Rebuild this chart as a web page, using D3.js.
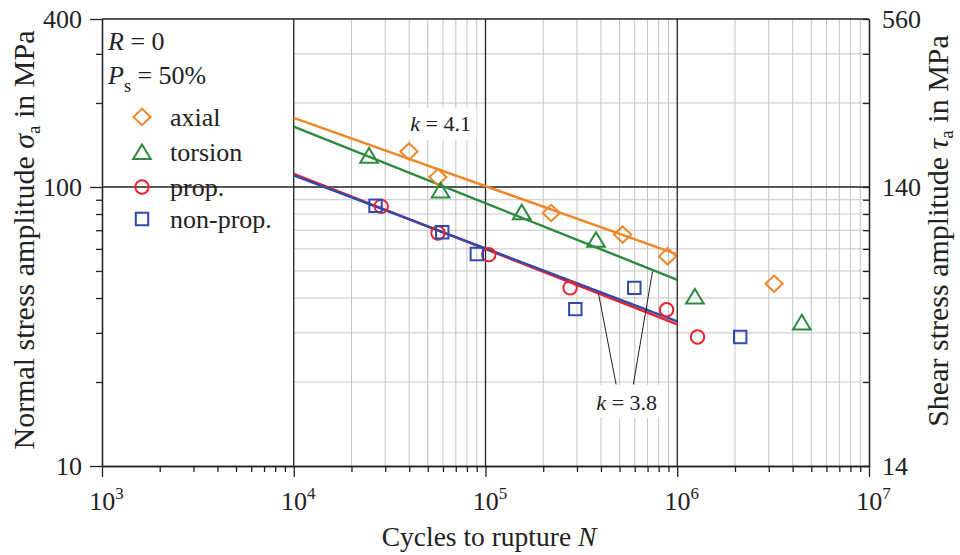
<!DOCTYPE html>
<html>
<head>
<meta charset="utf-8">
<script src="https://cdn.jsdelivr.net/npm/d3@7"></script>
<style>
  html, body { margin: 0; padding: 0; background: #fff; }
  svg { display: block; font-family: "Liberation Serif", "Times New Roman", serif; }
  .grid-minor { stroke: #c4c4c4; stroke-width: 1; }
  .grid-major { stroke: #222; stroke-width: 1.3; }
  .axis path, .axis line { stroke: #222; stroke-width: 1.3; }
  .axis text { font-size: 26px; fill: #222; font-family: "Liberation Serif", serif; }
</style>
</head>
<body>
<svg id="chart" width="960" height="555"></svg>
<script>
// cycles to rupture N and normal stress amplitude (MPa)
const axialN = [39900, 56500, 220000, 519000, 890000, 3200000];
const axialS = [134, 108.6, 80.7, 67.5, 56.4, 45.0];
const torsionN = [24700, 58300, 154500, 377000, 1236000, 4460000];
const torsionS = [129.5, 97.2, 81.1, 64.7, 40.5, 32.7];
const propN = [28600, 56500, 104000, 276000, 880000, 1276000];
const propS = [85.2, 68.4, 57.2, 43.5, 36.3, 29.0];
const nonPropN = [26700, 59500, 90100, 294000, 597000, 2130000];
const nonPropS = [85.7, 68.8, 57.5, 36.5, 43.5, 29.0];

// fitted S-N lines, from 1e4 to 1e6 cycles
const fitN = [1e4, 1e6];
const axialFit = [177, 57.3];
const torsionFit = [164.5, 46.5];
const propFit = [111.5, 32.2];
const nonPropFit = [110, 33];

const xMajor = [1e3, 1e4, 1e5, 1e6, 1e7];
const yMajor = [10, 100, 400];
const yMinor = [20, 30, 40, 50, 60, 70, 80, 90, 200, 300];
const tauMajor = [14, 140, 560];

const COLORS = { axial: '#f0862a', torsion: '#2b8a3e', prop: '#e8232b', nonProp: '#3149ad' };

const svg = d3.select('#chart');
const L = 102, R = 869, T = 19, B = 466;

const x = d3.scaleLog().domain([1e3, 1e7]).range([L, R]);
const y = d3.scaleLog().domain([10, 400]).range([B, T]);
const yTau = d3.scaleLog().domain([14, 560]).range([B, T]);

const xMinor = [];
[1e3, 1e4, 1e5, 1e6].forEach((d) => {
  for (let n = 2; n <= 9; n += 1) xMinor.push(n * d);
});

// grid: minor lines only over 1e4..1e7
const grid = svg.append('g');
grid.selectAll('.vmin').data(xMinor.filter((v) => v > 1e4))
  .join('line').attr('class', 'grid-minor')
  .attr('x1', (d) => x(d)).attr('x2', (d) => x(d)).attr('y1', T).attr('y2', B);
grid.selectAll('.hmin').data(yMinor)
  .join('line').attr('class', 'grid-minor')
  .attr('x1', x(1e4)).attr('x2', R).attr('y1', (d) => y(d)).attr('y2', (d) => y(d));

// annotation anchors (text baseline centre) - white boxes hide the grid
const k41 = { n: 58300, s: 159 };
const k38 = { n: 545000, s: 15.9 };
svg.append('rect').attr('x', x(k41.n) - 36).attr('y', y(k41.s) - 23).attr('width', 72).attr('height', 32).attr('fill', '#fff');
svg.append('rect').attr('x', x(k38.n) - 37).attr('y', y(k38.s) - 25).attr('width', 74).attr('height', 33).attr('fill', '#fff');

grid.selectAll('.vmaj').data([1e4, 1e5, 1e6])
  .join('line').attr('class', 'grid-major')
  .attr('x1', (d) => x(d)).attr('x2', (d) => x(d)).attr('y1', T).attr('y2', B);
grid.append('line').attr('class', 'grid-major')
  .attr('x1', L).attr('x2', R).attr('y1', y(100)).attr('y2', y(100));
grid.append('line').attr('class', 'grid-major')
  .attr('x1', L).attr('x2', R).attr('y1', T).attr('y2', T);

// axes
svg.append('g').attr('class', 'axis').attr('transform', `translate(0,${B})`)
  .call(d3.axisBottom(x).tickValues(xMinor).tickSize(6).tickSizeOuter(0).tickFormat(''));
const xAx = svg.append('g').attr('class', 'axis').attr('transform', `translate(0,${B})`)
  .call(d3.axisBottom(x).tickValues(xMajor).tickSize(11).tickSizeOuter(0).tickFormat(''));
xAx.selectAll('.tick').append('text')
  .attr('y', 44).attr('x', 4).attr('text-anchor', 'middle')
  .each(function (d) {
    const t = d3.select(this);
    t.append('tspan').text('10');
    t.append('tspan').attr('dy', -11).style('font-size', '17px').text(Math.round(Math.log10(d)));
  });

svg.append('g').attr('class', 'axis').attr('transform', `translate(${L},0)`)
  .call(d3.axisLeft(y).tickValues(yMinor).tickSize(6).tickSizeOuter(0).tickFormat(''));
svg.append('g').attr('class', 'axis').attr('transform', `translate(${L},0)`)
  .call(d3.axisLeft(y).tickValues(yMajor).tickSize(12).tickPadding(8).tickSizeOuter(0).tickFormat(d3.format('d')));

svg.append('g').attr('class', 'axis').attr('transform', `translate(${R},0)`)
  .call(d3.axisRight(yTau).tickValues(yMinor.map((v) => v * 1.4)).tickSize(-6).tickSizeOuter(0).tickFormat(''));
svg.append('g').attr('class', 'axis').attr('transform', `translate(${R},0)`)
  .call(d3.axisRight(yTau).tickValues(tauMajor).tickSize(-6).tickPadding(13).tickSizeOuter(0).tickFormat(d3.format('d')));

// fit lines
const line = d3.line().x((d) => x(d[0])).y((d) => y(d[1]));
const fits = [
  [axialFit, COLORS.axial],
  [torsionFit, COLORS.torsion],
  [propFit, COLORS.prop],
  [nonPropFit, COLORS.nonProp],
];
fits.forEach(([vals, c]) => {
  svg.append('path').attr('d', line(fitN.map((n, i) => [n, vals[i]])))
    .attr('fill', 'none').attr('stroke', c).attr('stroke-width', 2.4);
});

// markers
const shapes = {
  diamond: 'M0,-8.2L8.6,0L0,8.2L-8.6,0Z',
  triangle: 'M0,-7.6L8.8,7L-8.8,7Z',
  circle: 'M6.7,0A6.7,6.7 0 1 1 -6.7,0A6.7,6.7 0 1 1 6.7,0Z',
  square: 'M-6.2,-6.2H6.2V6.2H-6.2Z',
};
const series = [
  { name: 'axial', n: axialN, s: axialS, shape: 'diamond', color: COLORS.axial },
  { name: 'torsion', n: torsionN, s: torsionS, shape: 'triangle', color: COLORS.torsion },
  { name: 'prop.', n: propN, s: propS, shape: 'circle', color: COLORS.prop },
  { name: 'non-prop.', n: nonPropN, s: nonPropS, shape: 'square', color: COLORS.nonProp },
];
series.forEach((ser) => {
  svg.append('g').selectAll('path').data(ser.n.map((n, i) => [n, ser.s[i]]))
    .join('path')
    .attr('d', shapes[ser.shape])
    .attr('transform', (d) => `translate(${x(d[0])},${y(d[1])})`)
    .attr('fill', 'none').attr('stroke', ser.color).attr('stroke-width', 2);
});

// annotations
const txt = (sel, size = 26) => sel.attr('font-size', size).attr('fill', '#222');
const a1 = svg.append('text').attr('x', x(k41.n)).attr('y', y(k41.s)).attr('text-anchor', 'middle').call(txt, 22);
a1.append('tspan').attr('font-style', 'italic').text('k');
a1.append('tspan').text(' = 4.1');

const leaders = [
  [[480000, 19.6], [389000, 41.2]],
  [[590000, 19.6], [743000, 49.8]],
];
leaders.forEach((pts) => {
  svg.append('path').attr('d', line(pts)).attr('stroke', '#222').attr('stroke-width', 1).attr('fill', 'none');
});
const a2 = svg.append('text').attr('x', x(k38.n)).attr('y', y(k38.s)).attr('text-anchor', 'middle').call(txt, 22);
a2.append('tspan').attr('font-style', 'italic').text('k');
a2.append('tspan').text(' = 3.8');

// legend
const r0 = svg.append('text').attr('x', 108).attr('y', 50).call(txt);
r0.append('tspan').attr('font-style', 'italic').text('R');
r0.append('tspan').text(' = 0');
const ps = svg.append('text').attr('x', 108).attr('y', 84).call(txt);
ps.append('tspan').attr('font-style', 'italic').text('P');
ps.append('tspan').attr('dy', 8).attr('font-size', 18).text('s');
ps.append('tspan').attr('dy', -8).text(' = 50%');

const legRows = [117, 152, 187, 219];
series.forEach((ser, i) => {
  svg.append('path').attr('d', shapes[ser.shape])
    .attr('transform', `translate(142,${legRows[i]})`)
    .attr('fill', 'none').attr('stroke', ser.color).attr('stroke-width', 2);
  svg.append('text').attr('x', 170).attr('y', legRows[i] + 9).text(ser.name).call(txt);
});

// axis titles
const xt = svg.append('text').attr('x', 489).attr('y', 546).attr('text-anchor', 'middle')
  .attr('font-size', 27.5).attr('fill', '#222');
xt.append('tspan').text('Cycles to rupture ');
xt.append('tspan').attr('font-style', 'italic').text('N');

const yt = svg.append('text').attr('transform', 'translate(34,240) rotate(-90)')
  .attr('text-anchor', 'middle').attr('font-size', 30).attr('fill', '#222');
yt.append('tspan').text('Normal stress amplitude ');
yt.append('tspan').attr('font-style', 'italic').text('σ');
yt.append('tspan').attr('dy', 6).attr('font-size', 19).text('a');
yt.append('tspan').attr('dy', -6).text(' in MPa');

const yt2 = svg.append('text').attr('transform', 'translate(948,231) rotate(-90)')
  .attr('text-anchor', 'middle').attr('font-size', 30).attr('fill', '#222');
yt2.append('tspan').text('Shear stress amplitude ');
yt2.append('tspan').attr('font-style', 'italic').text('τ');
yt2.append('tspan').attr('dy', 5).attr('font-size', 19).text('a');
yt2.append('tspan').attr('dy', -5).text(' in MPa');
</script>
</body>
</html>
